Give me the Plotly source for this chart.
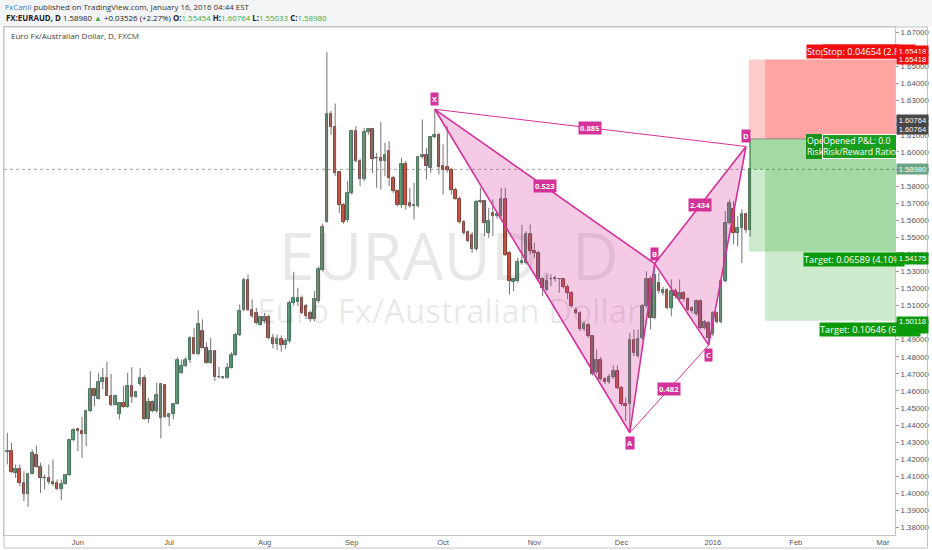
import numpy as np
import pandas as pd
import plotly.graph_objects as go

# ---------------- data (EUR/AUD daily, FXCM) ----------------
opens = [
    1.4241, 1.4251, 1.4120, 1.4140, 1.4062, 1.3997, 1.4116, 1.4226, 1.4155, 1.4091,
    1.4091, 1.4068, 1.4062, 1.4027, 1.4056, 1.4109, 1.4310, 1.4378, 1.4368, 1.4349,
    1.4482, 1.4614, 1.4554, 1.4654, 1.4673, 1.4573, 1.4517, 1.4462, 1.4532, 1.4507,
    1.4628, 1.4564, 1.4638, 1.4673, 1.4433, 1.4536, 1.4482, 1.4443, 1.4634, 1.4446,
    1.4462, 1.4525, 1.4706, 1.4745, 1.4779, 1.4911, 1.4818, 1.4954, 1.4853, 1.4764,
    1.4833, 1.4683, 1.4673, 1.4677, 1.4735, 1.4808, 1.4925, 1.5077, 1.5249, 1.5077,
    1.5058, 1.4989, 1.5009, 1.5034, 1.4911, 1.4875, 1.4905, 1.4868, 1.4895, 1.5116,
    1.5120, 1.5145, 1.5097, 1.5054, 1.5019, 1.5126, 1.5311, 1.5589, 1.6225, 1.6147,
    1.5882, 1.5688, 1.5604, 1.5761, 1.6122, 1.5946, 1.5839, 1.6116, 1.6132, 1.5966,
    1.5966, 1.5946, 1.6005, 1.5849, 1.5770, 1.5688, 1.5927, 1.5702, 1.5685, 1.5682,
    1.5972, 1.5985, 1.5907, 1.6087, 1.6097, 1.5917, 1.5913, 1.5897, 1.5780, 1.5727,
    1.5589, 1.5530, 1.5516, 1.5429, 1.5708, 1.5712, 1.5526, 1.5643, 1.5624, 1.5624,
    1.5722, 1.5409, 1.5237, 1.5243, 1.5350, 1.5350, 1.5517, 1.5420, 1.5409, 1.5253,
    1.5194, 1.5253, 1.5262, 1.5256, 1.5253, 1.5210, 1.5175, 1.5077, 1.5058, 1.4960,
    1.4989, 1.4919, 1.4712, 1.4784, 1.4667, 1.4652, 1.4680, 1.4716, 1.4618, 1.4521,
    1.4521, 1.4901, 1.4804, 1.4911, 1.5097, 1.5253, 1.5028, 1.5233, 1.5175, 1.5194,
    1.5087, 1.5185, 1.5136, 1.5175, 1.5136, 1.5087, 1.5048, 1.5126, 1.4970, 1.4999,
    1.4931, 1.5058, 1.5003, 1.5243, 1.5585, 1.5663, 1.5526, 1.5556, 1.5634, 1.55454,
]
highs = [
    1.4355, 1.4296, 1.4169, 1.4169, 1.4130, 1.4120, 1.4257, 1.4281, 1.4179, 1.4111,
    1.4169, 1.4198, 1.4081, 1.4081, 1.4114, 1.4316, 1.4384, 1.4380, 1.4448, 1.4491,
    1.4716, 1.4618, 1.4706, 1.4735, 1.4771, 1.4700, 1.4575, 1.4535, 1.4628, 1.4706,
    1.4739, 1.4600, 1.4735, 1.4693, 1.4560, 1.4544, 1.4648, 1.4644, 1.4638, 1.4465,
    1.4530, 1.4798, 1.4784, 1.4798, 1.4921, 1.4968, 1.5073, 1.5019, 1.4882, 1.4911,
    1.4839, 1.4741, 1.4687, 1.4764, 1.4827, 1.4941, 1.5107, 1.5263, 1.5282, 1.5136,
    1.5087, 1.5038, 1.5058, 1.5048, 1.4935, 1.4930, 1.4925, 1.4910, 1.5130, 1.5298,
    1.5204, 1.5160, 1.5110, 1.5070, 1.5185, 1.5330, 1.5580, 1.6585, 1.6240, 1.6284,
    1.5890, 1.5700, 1.5829, 1.6130, 1.6151, 1.5960, 1.6141, 1.6140, 1.6141, 1.5995,
    1.6175, 1.6054, 1.6063, 1.5860, 1.5780, 1.5966, 1.5946, 1.5790, 1.5819, 1.5976,
    1.6190, 1.6024, 1.6093, 1.6250, 1.6112, 1.6044, 1.6151, 1.5907, 1.5790, 1.5740,
    1.5600, 1.5540, 1.5530, 1.5720, 1.5790, 1.5720, 1.5673, 1.5722, 1.5650, 1.5790,
    1.5790, 1.5420, 1.5260, 1.5380, 1.5575, 1.5536, 1.5575, 1.5468, 1.5420, 1.5265,
    1.5282, 1.5282, 1.5275, 1.5262, 1.5262, 1.5224, 1.5185, 1.5090, 1.5067, 1.5005,
    1.5000, 1.4925, 1.4843, 1.4800, 1.4680, 1.4700, 1.4750, 1.4750, 1.4630, 1.4560,
    1.4940, 1.4960, 1.4960, 1.5110, 1.5302, 1.5272, 1.5346, 1.5292, 1.5210, 1.5204,
    1.5253, 1.5200, 1.5253, 1.5185, 1.5150, 1.5095, 1.5136, 1.5136, 1.5015, 1.5009,
    1.5067, 1.5067, 1.5253, 1.5653, 1.5722, 1.5712, 1.5624, 1.5663, 1.5643, 1.60764,
]
lows = [
    1.4169, 1.4120, 1.4091, 1.4042, 1.3954, 1.3921, 1.4111, 1.4150, 1.4003, 1.4023,
    1.4052, 1.4042, 1.4019, 1.3960, 1.4052, 1.4101, 1.4304, 1.4247, 1.4208, 1.4277,
    1.4476, 1.4511, 1.4550, 1.4609, 1.4570, 1.4511, 1.4515, 1.4433, 1.4501, 1.4501,
    1.4530, 1.4560, 1.4628, 1.4429, 1.4413, 1.4476, 1.4472, 1.4322, 1.4443, 1.4394,
    1.4433, 1.4521, 1.4700, 1.4739, 1.4764, 1.4814, 1.4808, 1.4849, 1.4761, 1.4759,
    1.4657, 1.4673, 1.4671, 1.4673, 1.4732, 1.4804, 1.4921, 1.5068, 1.5068, 1.5028,
    1.4989, 1.4983, 1.4995, 1.4901, 1.4850, 1.4840, 1.4830, 1.4845, 1.4880, 1.5100,
    1.5097, 1.5050, 1.5020, 1.5005, 1.5009, 1.5115, 1.5300, 1.5585, 1.6100, 1.5860,
    1.5643, 1.5580, 1.5590, 1.5750, 1.5940, 1.5800, 1.5830, 1.6100, 1.5878, 1.5790,
    1.5780, 1.5858, 1.5800, 1.5760, 1.5680, 1.5673, 1.5663, 1.5673, 1.5604, 1.5675,
    1.5960, 1.5839, 1.5878, 1.6080, 1.5868, 1.5751, 1.5880, 1.5751, 1.5720, 1.5580,
    1.5516, 1.5470, 1.5409, 1.5420, 1.5700, 1.5507, 1.5497, 1.5507, 1.5610, 1.5615,
    1.5390, 1.5165, 1.5185, 1.5233, 1.5340, 1.5340, 1.5399, 1.5380, 1.5243, 1.5155,
    1.5185, 1.5214, 1.5240, 1.5175, 1.5200, 1.5136, 1.5087, 1.5048, 1.4950, 1.4950,
    1.4911, 1.4690, 1.4700, 1.4660, 1.4640, 1.4640, 1.4670, 1.4610, 1.4511, 1.4423,
    1.4355, 1.4804, 1.4794, 1.4900, 1.5087, 1.4960, 1.5019, 1.5170, 1.5160, 1.5077,
    1.5038, 1.5140, 1.5120, 1.5125, 1.5067, 1.5055, 1.5040, 1.4960, 1.4960, 1.4868,
    1.4921, 1.4995, 1.4995, 1.5235, 1.5575, 1.5458, 1.5448, 1.5350, 1.5526, 1.55033,
]
closes = [
    1.4249, 1.4126, 1.4140, 1.4062, 1.3997, 1.4116, 1.4237, 1.4155, 1.4091, 1.4089,
    1.4068, 1.4052, 1.4027, 1.4056, 1.4109, 1.4310, 1.4374, 1.4368, 1.4349, 1.4482,
    1.4614, 1.4570, 1.4654, 1.4673, 1.4573, 1.4517, 1.4570, 1.4532, 1.4507, 1.4628,
    1.4564, 1.4595, 1.4673, 1.4433, 1.4536, 1.4482, 1.4579, 1.4638, 1.4446, 1.4462,
    1.4525, 1.4784, 1.4745, 1.4779, 1.4911, 1.4818, 1.4993, 1.4853, 1.4764, 1.4833,
    1.4683, 1.4681, 1.4681, 1.4735, 1.4808, 1.4925, 1.5068, 1.5249, 1.5077, 1.5038,
    1.4999, 1.5034, 1.5034, 1.4911, 1.4875, 1.4905, 1.4868, 1.4895, 1.5116, 1.5146,
    1.5142, 1.5058, 1.5038, 1.5019, 1.5136, 1.5315, 1.5559, 1.6225, 1.6147, 1.5878,
    1.5688, 1.5589, 1.5761, 1.6122, 1.5946, 1.5839, 1.6116, 1.6132, 1.5960, 1.5962,
    1.5946, 1.5985, 1.5849, 1.5770, 1.5688, 1.5927, 1.5688, 1.5682, 1.5690, 1.5972,
    1.5985, 1.5917, 1.6087, 1.6097, 1.5913, 1.5897, 1.5893, 1.5780, 1.5727, 1.5589,
    1.5526, 1.5477, 1.5429, 1.5708, 1.5712, 1.5585, 1.5598, 1.5624, 1.5634, 1.5722,
    1.5399, 1.5243, 1.5253, 1.5356, 1.5360, 1.5517, 1.5420, 1.5409, 1.5253, 1.5204,
    1.5243, 1.5258, 1.5256, 1.5258, 1.5210, 1.5175, 1.5097, 1.5058, 1.4960, 1.4995,
    1.4919, 1.4700, 1.4784, 1.4667, 1.4652, 1.4680, 1.4716, 1.4618, 1.4521, 1.4511,
    1.4901, 1.4823, 1.4905, 1.5097, 1.5253, 1.5028, 1.5282, 1.5185, 1.5194, 1.5087,
    1.5185, 1.5155, 1.5175, 1.5136, 1.5077, 1.5067, 1.5126, 1.4970, 1.5003, 1.4911,
    1.5058, 1.5003, 1.5243, 1.5585, 1.5702, 1.5526, 1.5556, 1.5634, 1.5545, 1.58980,
]

first_bar = "2015-05-07"
holidays = ["2015-12-25", "2016-01-01"]
month_ticks = ["2015-06-01", "2015-07-01", "2015-08-03", "2015-09-01", "2015-10-01",
               "2015-11-02", "2015-12-01", "2016-01-04", "2016-02-01", "2016-03-01"]
month_labels = ["Jun", "Jul", "Aug", "Sep", "Oct", "Nov", "Dec", "2016", "Feb", "Mar"]

# XABCD pattern (bar index, price)
pattern_names = ["X", "A", "B", "C", "D"]
pattern_bar = [103, 150, 156, 169, 178]
pattern_price = [1.6250, 1.4355, 1.5346, 1.4868, 1.6032]
ratio_pairs = [(0, 4), (0, 2), (1, 3), (2, 4)]
ratio_text = ["0.885", "0.523", "0.482", "2.434"]

# short position tools
entry_price = 1.60764
stop_price = 1.65418
target1_price = 1.54175
target2_price = 1.50118
last_price = 1.58980

# ---------------- layout constants ----------------
W, H = 932, 550
ML, MR, MT, MB = 4, 37, 27, 15
PW, PH = W - ML - MR, H - MT - MB
y_range = [1.3756, 1.6732]
x_range_k = [-0.8, 213.9]

UP_FILL, UP_LINE = "#6ba583", "#225437"
DN_FILL, DN_LINE = "#d75442", "#5b1a13"
WICK = "#737375"
PAT = "#d2329a"
PAT_FILL = "rgba(214, 51, 154, 0.26)"
RED_A = "rgba(255, 0, 0, 0.2)"
GRN_A = "rgba(0, 150, 0, 0.2)"
TXT_FONT = "Open Sans"
AX_FONT = "Liberation Sans"
LBL = 9.2

calendar = [d for d in pd.bdate_range("2015-04-27", "2016-03-31")
            if d.strftime("%Y-%m-%d") not in holidays]
start_i = calendar.index(pd.Timestamp(first_bar))


def kx(k):
    i = int(np.floor(k))
    f = k - i
    t = calendar[start_i + i] + pd.Timedelta(hours=12) + pd.Timedelta(days=f)
    return t.strftime("%Y-%m-%d %H:%M:%S")


def pxx(px):
    return (px - ML) / PW


def pxy(py):
    return (H - MB - py) / PH


n = len(closes)
xs = [kx(i) for i in range(n)]

fig = go.Figure()

# watermark (behind everything)
fig.add_trace(go.Scatter(
    x=[kx(106.4)], y=[y_range[0] + 0.534 * (y_range[1] - y_range[0])],
    mode="text", text=["EURAUD, D"],
    textfont=dict(size=65, color="rgba(0,0,0,0.09)", family=TXT_FONT),
    hoverinfo="skip", showlegend=False, cliponaxis=False))
fig.add_trace(go.Scatter(
    x=[kx(106.4)], y=[y_range[0] + 0.434 * (y_range[1] - y_range[0])],
    mode="text", text=["Euro Fx/Australian Dollar"],
    textfont=dict(size=33, color="rgba(0,0,0,0.09)", family=TXT_FONT),
    hoverinfo="skip", showlegend=False, cliponaxis=False))

# wicks
wx, wy = [], []
for i in range(n):
    wx += [xs[i], xs[i], None]
    wy += [min(lows[i], opens[i], closes[i]), max(highs[i], opens[i], closes[i]), None]
fig.add_trace(go.Scatter(x=wx, y=wy, mode="lines", line=dict(color=WICK, width=1),
                         hoverinfo="skip", showlegend=False))

# bodies
MIN_BODY = 0.00012
for up, fill, edge in [(True, UP_FILL, UP_LINE), (False, DN_FILL, DN_LINE)]:
    idx = [i for i in range(n) if (closes[i] >= opens[i]) == up]
    fig.add_trace(go.Bar(
        x=[xs[i] for i in idx],
        base=[min(opens[i], closes[i]) for i in idx],
        y=[max(abs(closes[i] - opens[i]), MIN_BODY) for i in idx],
        width=0.62 * 86400000,
        marker=dict(color=fill, line=dict(color=edge, width=0.8)),
        hoverinfo="skip", showlegend=False))

# pattern
P = [(kx(b), p) for b, p in zip(pattern_bar, pattern_price)]
for tri in [(0, 1, 2), (2, 3, 4)]:
    pts = [P[j] for j in tri] + [P[tri[0]]]
    fig.add_trace(go.Scatter(
        x=[q[0] for q in pts], y=[q[1] for q in pts], mode="lines",
        fill="toself", fillcolor=PAT_FILL, line=dict(color=PAT, width=1.6),
        hoverinfo="skip", showlegend=False))
for a, b in [(1, 3), (0, 4)]:
    fig.add_trace(go.Scatter(
        x=[P[a][0], P[b][0]], y=[P[a][1], P[b][1]], mode="lines",
        line=dict(color=PAT, width=1), hoverinfo="skip", showlegend=False))

# ---------------- shapes ----------------
shapes = []
shapes.append(dict(type="rect", xref="paper", yref="paper", x0=pxx(0), x1=pxx(W),
                   y0=pxy(MT), y1=pxy(0), fillcolor="#f4f5f7", line=dict(width=0),
                   layer="below"))
shapes.append(dict(type="line", xref="paper", yref="y", x0=0, x1=1,
                   y0=last_price, y1=last_price,
                   line=dict(color="#a0a0a0", width=1, dash="dot"), layer="below"))
t1_start, t2_start, t_end = 178.7, 182.6, 220
x_end = kx(t_end)
for xs0, tgt in [(t1_start, target1_price), (t2_start, target2_price)]:
    shapes.append(dict(type="rect", xref="x", yref="y", x0=kx(xs0), x1=x_end,
                       y0=entry_price, y1=stop_price, fillcolor=RED_A,
                       line=dict(width=0), layer="above"))
    shapes.append(dict(type="rect", xref="x", yref="y", x0=kx(xs0), x1=x_end,
                       y0=tgt, y1=entry_price, fillcolor=GRN_A,
                       line=dict(width=0), layer="above"))
shapes.append(dict(type="rect", xref="x", yref="y", x0=kx(t1_start), x1=kx(t2_start),
                   y0=last_price, y1=entry_price, fillcolor=GRN_A,
                   line=dict(width=0), layer="above"))
shapes.append(dict(type="line", xref="x", yref="y", x0=kx(t1_start), x1=x_end,
                   y0=entry_price, y1=entry_price,
                   line=dict(color="#8c8c8c", width=1), layer="above"))
shapes.append(dict(type="rect", xref="paper", yref="paper", x0=pxx(ML), x1=pxx(927.5),
                   y0=pxy(548), y1=pxy(MT), line=dict(color="#c4c4c4", width=1),
                   fillcolor="rgba(0,0,0,0)"))

# ---------------- annotations ----------------
ann = []
ann.append(dict(xref="paper", yref="paper", x=pxx(3), y=pxy(7), xanchor="left",
                yanchor="middle", showarrow=False,
                text="<span style='color:#2f7fd4'>FxCanli</span> published on TradingView.com, January 16, 2016 04:44 EST",
                font=dict(family=TXT_FONT, size=7.9, color="#333333")))
G = "#3faa48"
ann.append(dict(xref="paper", yref="paper", x=pxx(4), y=pxy(18), xanchor="left",
                yanchor="middle", showarrow=False,
                text=("<b>FX:EURAUD, D</b> 1.58980 <span style='color:%s'>▲</span> +0.03526 (+2.27%%) "
                      "<b>O:</b><span style='color:%s'>1.55454</span> <b>H:</b><span style='color:%s'>1.60764</span> "
                      "<b>L:</b><span style='color:%s'>1.55033</span> <b>C:</b><span style='color:%s'>1.58980</span>")
                % (G, G, G, G, G),
                font=dict(family=TXT_FONT, size=7.9, color="#222222")))
ann.append(dict(xref="paper", yref="paper", x=pxx(9), y=pxy(36), xanchor="left",
                yanchor="middle", showarrow=False,
                text="Euro Fx/Australian Dollar, D, FXCM",
                font=dict(family=TXT_FONT, size=8, color="#444444")))

above = {"X": True, "A": False, "B": True, "C": False, "D": True}
for name, (x_, y_) in zip(pattern_names, P):
    ann.append(dict(x=x_, y=y_, xref="x", yref="y", text="<b>%s</b>" % name,
                    showarrow=False, yanchor="bottom" if above[name] else "top",
                    yshift=3 if above[name] else -3, bgcolor=PAT, borderpad=1,
                    font=dict(family=TXT_FONT, size=7.5, color="white")))
for (a, b), txt in zip(ratio_pairs, ratio_text):
    mk = (pattern_bar[a] + pattern_bar[b]) / 2
    mp = (pattern_price[a] + pattern_price[b]) / 2
    ann.append(dict(x=kx(mk), y=mp, xref="x", yref="y", text="<b>%s</b>" % txt,
                    showarrow=False, bgcolor=PAT, borderpad=1,
                    font=dict(family=TXT_FONT, size=7.6, color="white")))

stop_txt = "Stop: %.5f (%.2f%%)" % (stop_price - entry_price,
                                      (stop_price - entry_price) / entry_price * 100)
for k_, bg in [(192.5, "#ee1111"), (196.3, "#f20d0d")]:
    ann.append(dict(x=kx(k_), y=stop_price, xref="x", yref="y", xanchor="left",
                    yanchor="bottom", yshift=0, text=stop_txt, showarrow=False,
                    bgcolor=bg, borderpad=0,
                    font=dict(family=TXT_FONT, size=LBL, color="white")))
for k_, bg, bc in [(192.5, "#17921a", "#17921a"), (196.3, "#1a9e1d", "#ffffff")]:
    ann.append(dict(x=kx(k_), y=entry_price, xref="x", yref="y", xanchor="left",
                    yanchor="top", yshift=5, align="left",
                    text="Opened P&amp;L: 0.0<br>Risk/Reward Ratio", showarrow=False,
                    bgcolor=bg, bordercolor=bc, borderwidth=1, borderpad=0,
                    font=dict(family=TXT_FONT, size=8.7, color="white")))
for k_, tgt in [(191.7, target1_price), (195.6, target2_price)]:
    d = entry_price - tgt
    ann.append(dict(x=kx(k_), y=tgt, xref="x", yref="y", xanchor="left",
                    yanchor="top", yshift=-1,
                    text="Target: %.5f (%.2f%%)" % (d, d / entry_price * 100),
                    showarrow=False, bgcolor="#0b9a0b", borderpad=0,
                    font=dict(family=TXT_FONT, size=LBL, color="white")))


def axis_label(price, color, shift=0, height=10, valign="middle"):
    return dict(xref="paper", x=1, xanchor="left", xshift=1, yref="y", y=price,
                yanchor="middle", yshift=shift, text="%.5f" % price, showarrow=False,
                bgcolor=color, width=31, height=height, borderpad=0, valign=valign,
                font=dict(family=AX_FONT, size=7.6, color="white"))


ann.append(axis_label(stop_price, "#f20d0d", 8.5))
ann.append(axis_label(stop_price, "#f20d0d", 0))
ann.append(axis_label(entry_price, "#474747", 19))
ann.append(axis_label(entry_price, "#474747", 10))
ann.append(axis_label(last_price, UP_FILL, 0))
ann.append(axis_label(target1_price, "#0b9a0b", -7, height=11))
ann.append(axis_label(target2_price, "#0b9a0b", -4, height=16, valign="top"))

fig.update_layout(
    width=W, height=H,
    margin=dict(l=ML, r=MR, t=MT, b=MB, pad=0, autoexpand=False),
    paper_bgcolor="white", plot_bgcolor="white",
    showlegend=False, barmode="overlay", bargap=0,
    shapes=shapes, annotations=ann,
    xaxis=dict(
        type="date", range=[kx(x_range_k[0]), kx(x_range_k[1])],
        rangebreaks=[dict(bounds=["sat", "mon"]), dict(values=holidays)],
        tickvals=[pd.Timestamp(t) + pd.Timedelta(hours=12) for t in month_ticks],
        ticktext=month_labels, ticks="", showgrid=False, zeroline=False,
        showline=True, linecolor="#c4c4c4", linewidth=1, mirror=True, automargin=False,
        tickfont=dict(family=AX_FONT, size=7.5, color="#555555"),
        rangeslider=dict(visible=False), fixedrange=True),
    yaxis=dict(
        side="right", range=y_range, dtick=0.01, tick0=1.38, tickformat=".5f",
        ticks="outside", ticklen=3, tickcolor="#999999", showgrid=False, automargin=False,
        zeroline=False, showline=True, linecolor="#c4c4c4", linewidth=1, mirror=True,
        tickfont=dict(family=AX_FONT, size=7.8, color="#555555"), fixedrange=True),
)

fig.write_html("out.html", config={"displayModeBar": False},
               post_script="document.body.style.margin='0px';")
